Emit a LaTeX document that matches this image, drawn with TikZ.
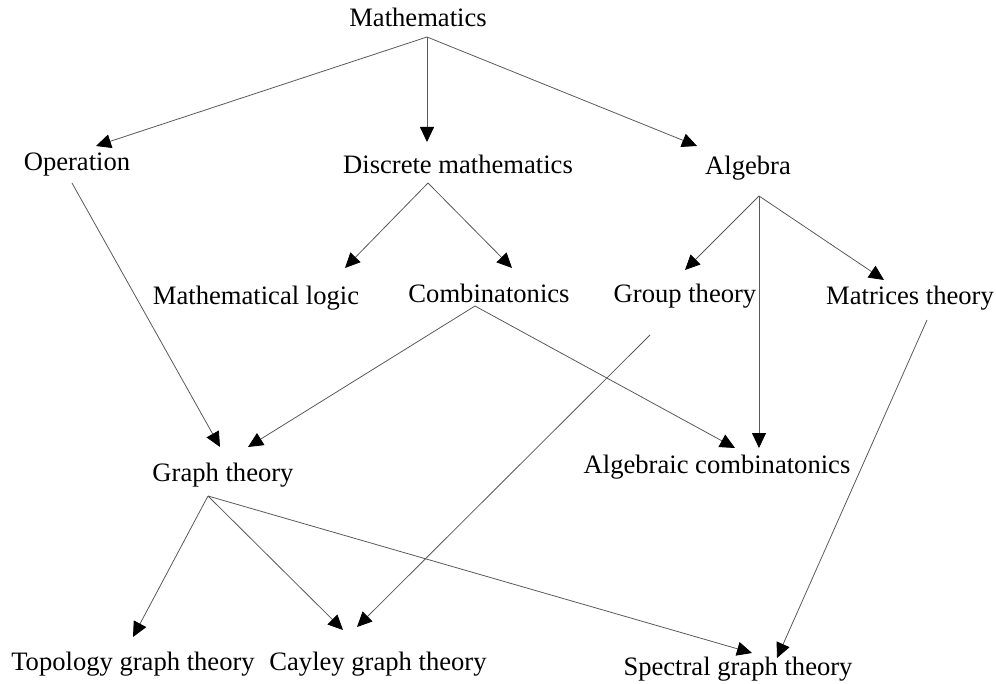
\documentclass[tikz,border=0pt]{standalone}
\usepackage{fontspec}
\setmainfont{Liberation Serif}
\usetikzlibrary{arrows.meta}
\tikzset{
  >={Triangle[length=7.5pt,width=7pt,color=black]},
  term/.style={inner sep=0pt,anchor=base,font=\fontsize{13.3}{16}\selectfont},
  sar/.style={->,line width=0.4pt,black!65},
}

\begin{document}
\begin{tikzpicture}[x=0.5pt,y=-0.5pt]
    \useasboundingbox (0,0) rectangle (996,684);
    % subjects, placed at their baselines
    \node[term] (math)  at (418,27)  {Mathematics};
    \node[term] (oper)  at (77,171)  {Operation};
    \node[term] (disc)  at (458,174) {Discrete mathematics};
    \node[term] (alg)   at (748,175) {Algebra};
    \node[term] (mlog)  at (256,305) {Mathematical logic};
    \node[term] (comb)  at (489,303) {Combinatonics};
    \node[term] (group) at (685,303) {Group theory};
    \node[term] (matr)  at (910,305) {Matrices theory};
    \node[term] (graph) at (223,481) {Graph theory};
    \node[term] (algc)  at (717,473) {Algebraic combinatonics};
    \node[term] (topo)  at (133,670) {Topology graph theory};
    \node[term] (cay)   at (378,670) {Cayley graph theory};
    \node[term] (spec)  at (738,675) {Spectral graph theory};
    % ports where the arrows leave and land
    \coordinate (mathO)  at (427,37);
    \coordinate (operI)  at (96,146);
    \coordinate (operO)  at (72,183);
    \coordinate (discI)  at (427,142);
    \coordinate (discO)  at (428,183);
    \coordinate (algI)   at (697,146);
    \coordinate (algO)   at (759,196);
    \coordinate (mlogI)  at (345,268);
    \coordinate (combI)  at (512,268);
    \coordinate (combO)  at (475,306);
    \coordinate (groupI) at (685,270);
    \coordinate (groupO) at (650,335);
    \coordinate (matrI)  at (884,280);
    \coordinate (matrO)  at (927,320);
    \coordinate (graphIa) at (220,447);
    \coordinate (graphIb) at (248,447);
    \coordinate (graphO) at (208,496);
    \coordinate (algcIa) at (735,448);
    \coordinate (algcIb) at (759,448);
    \coordinate (topoI)  at (133,637);
    \coordinate (cayIa)  at (343,630);
    \coordinate (cayIb)  at (357,627);
    \coordinate (specIa) at (752,653);
    \coordinate (specIb) at (777,658);
    \draw[sar] (mathO) -- (operI);
    \draw[sar] (mathO) -- (discI);
    \draw[sar] (mathO) -- (algI);
    \draw[sar] (operO) -- (graphIa);
    \draw[sar] (discO) -- (mlogI);
    \draw[sar] (discO) -- (combI);
    \draw[sar] (algO) -- (groupI);
    \draw[sar] (algO) -- (matrI);
    \draw[sar] (algO) -- (algcIb);
    \draw[sar] (combO) -- (graphIb);
    \draw[sar] (combO) -- (algcIa);
    \draw[sar] (groupO) -- (cayIb);
    \draw[sar] (matrO) -- (specIb);
    \draw[sar] (graphO) -- (topoI);
    \draw[sar] (graphO) -- (cayIa);
    \draw[sar] (graphO) -- (specIa);
\end{tikzpicture}
\end{document}
